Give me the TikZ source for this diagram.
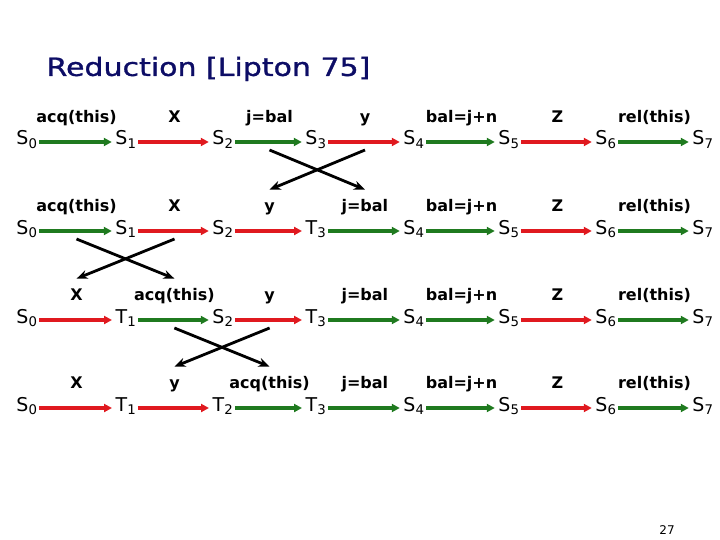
\documentclass[tikz,border=0pt]{standalone}
\usepackage{fontspec}
\setmainfont{DejaVu Sans}
\newfontfamily\titlefont[FakeStretch=1.2, FakeBold=1.2]{DejaVu Sans}
\usepackage{xcolor}
\definecolor{StepRed}{rgb}{0.88, 0.10, 0.12}
\definecolor{StepGreen}{rgb}{0.12, 0.48, 0.12}
\definecolor{TitleNavy}{rgb}{0.05, 0.05, 0.40}
\usetikzlibrary{positioning, arrows.meta}

\begin{document}
\begin{tikzpicture}[
        x=1pt, y=-1pt,
        % Styles
        state/.style={font=\fontsize{19}{20}\selectfont, text height=11pt, text depth=5pt, inner sep=1.5pt},
        step_label/.style={midway, above=13pt, text=black, font=\bfseries\fontsize{16}{17}\selectfont, text height=11pt, text depth=4pt, inner sep=1pt},
        green_step/.style={-{Triangle[length=8pt, width=8pt]}, StepGreen, line width=3.4pt, shorten >=2pt},
        red_step/.style={-{Triangle[length=8pt, width=8pt]}, StepRed, line width=3.4pt, shorten >=2pt},
        swap_arrow/.style={-{Stealth[length=11pt, width=9pt]}, black, line width=2.8pt}
    ]
    \useasboundingbox (0,0) rectangle (720,540);

    % 0. TITLE
    \node[anchor=west, text=TitleNavy, font=\titlefont\fontsize{25}{28}\selectfont] (title) at (43,69) {Reduction [Lipton 75]};

    % 1. ORIGINAL RUN
    \node[state] (a0) at (27,142) {S\textsubscript{0}};
    \node[state] (a1) at (126,142) {S\textsubscript{1}};
    \node[state] (a2) at (223,142) {S\textsubscript{2}};
    \node[state] (a3) at (316,142) {S\textsubscript{3}};
    \node[state] (a4) at (414,142) {S\textsubscript{4}};
    \node[state] (a5) at (509,142) {S\textsubscript{5}};
    \node[state] (a6) at (606,142) {S\textsubscript{6}};
    \node[state] (a7) at (703,142) {S\textsubscript{7}};
    \draw[green_step] (a0) -- (a1) node[step_label] (la1) {acq(this)};
    \draw[red_step] (a1) -- (a2) node[step_label] (la2) {X};
    \draw[green_step] (a2) -- (a3) node[step_label] (la3) {j=bal} coordinate[midway, yshift=-8pt] (xa3);
    \draw[red_step] (a3) -- (a4) node[step_label] (la4) {y} coordinate[midway, yshift=-8pt] (xa4);
    \draw[green_step] (a4) -- (a5) node[step_label] (la5) {bal=j+n};
    \draw[red_step] (a5) -- (a6) node[step_label] (la6) {Z};
    \draw[green_step] (a6) -- (a7) node[step_label] (la7) {rel(this)};

    % 2. y MOVED BEFORE j=bal
    \node[state] (b0) at (27,231) {S\textsubscript{0}};
    \node[state] (b1) at (126,231) {S\textsubscript{1}};
    \node[state] (b2) at (223,231) {S\textsubscript{2}};
    \node[state] (b3) at (316,231) {T\textsubscript{3}};
    \node[state] (b4) at (414,231) {S\textsubscript{4}};
    \node[state] (b5) at (509,231) {S\textsubscript{5}};
    \node[state] (b6) at (606,231) {S\textsubscript{6}};
    \node[state] (b7) at (703,231) {S\textsubscript{7}};
    \draw[green_step] (b0) -- (b1) node[step_label] (lb1) {acq(this)} coordinate[midway, yshift=-8pt] (xb1);
    \draw[red_step] (b1) -- (b2) node[step_label] (lb2) {X} coordinate[midway, yshift=-8pt] (xb2);
    \draw[red_step] (b2) -- (b3) node[step_label] (lb3) {y};
    \draw[green_step] (b3) -- (b4) node[step_label] (lb4) {j=bal};
    \draw[green_step] (b4) -- (b5) node[step_label] (lb5) {bal=j+n};
    \draw[red_step] (b5) -- (b6) node[step_label] (lb6) {Z};
    \draw[green_step] (b6) -- (b7) node[step_label] (lb7) {rel(this)};

    % 3. X MOVED BEFORE acq(this)
    \node[state] (c0) at (27,320) {S\textsubscript{0}};
    \node[state] (c1) at (126,320) {T\textsubscript{1}};
    \node[state] (c2) at (223,320) {S\textsubscript{2}};
    \node[state] (c3) at (316,320) {T\textsubscript{3}};
    \node[state] (c4) at (414,320) {S\textsubscript{4}};
    \node[state] (c5) at (509,320) {S\textsubscript{5}};
    \node[state] (c6) at (606,320) {S\textsubscript{6}};
    \node[state] (c7) at (703,320) {S\textsubscript{7}};
    \draw[red_step] (c0) -- (c1) node[step_label] (lc1) {X};
    \draw[green_step] (c1) -- (c2) node[step_label] (lc2) {acq(this)} coordinate[midway, yshift=-8pt] (xc2);
    \draw[red_step] (c2) -- (c3) node[step_label] (lc3) {y} coordinate[midway, yshift=-8pt] (xc3);
    \draw[green_step] (c3) -- (c4) node[step_label] (lc4) {j=bal};
    \draw[green_step] (c4) -- (c5) node[step_label] (lc5) {bal=j+n};
    \draw[red_step] (c5) -- (c6) node[step_label] (lc6) {Z};
    \draw[green_step] (c6) -- (c7) node[step_label] (lc7) {rel(this)};

    % 4. y MOVED BEFORE acq(this)
    \node[state] (d0) at (27,408) {S\textsubscript{0}};
    \node[state] (d1) at (126,408) {T\textsubscript{1}};
    \node[state] (d2) at (223,408) {T\textsubscript{2}};
    \node[state] (d3) at (316,408) {T\textsubscript{3}};
    \node[state] (d4) at (414,408) {S\textsubscript{4}};
    \node[state] (d5) at (509,408) {S\textsubscript{5}};
    \node[state] (d6) at (606,408) {S\textsubscript{6}};
    \node[state] (d7) at (703,408) {S\textsubscript{7}};
    \draw[red_step] (d0) -- (d1) node[step_label] (ld1) {X};
    \draw[red_step] (d1) -- (d2) node[step_label] (ld2) {y};
    \draw[green_step] (d2) -- (d3) node[step_label] (ld3) {acq(this)};
    \draw[green_step] (d3) -- (d4) node[step_label] (ld4) {j=bal};
    \draw[green_step] (d4) -- (d5) node[step_label] (ld5) {bal=j+n};
    \draw[red_step] (d5) -- (d6) node[step_label] (ld6) {Z};
    \draw[green_step] (d6) -- (d7) node[step_label] (ld7) {rel(this)};

    % 5. SWAPS
    \draw[swap_arrow] (xa3) -- ([yshift=8pt]lb4.north);
    \draw[swap_arrow] (xa4) -- ([yshift=8pt]lb3.north);
    \draw[swap_arrow] (xb1) -- ([yshift=8pt]lc2.north);
    \draw[swap_arrow] (xb2) -- ([yshift=8pt]lc1.north);
    \draw[swap_arrow] (xc2) -- ([yshift=8pt]ld3.north);
    \draw[swap_arrow] (xc3) -- ([yshift=8pt]ld2.north);

    % 6. PAGE NUMBER
    \node[font=\fontsize{12}{14}\selectfont] (pagenum) at (667,530) {27};
\end{tikzpicture}
\end{document}
